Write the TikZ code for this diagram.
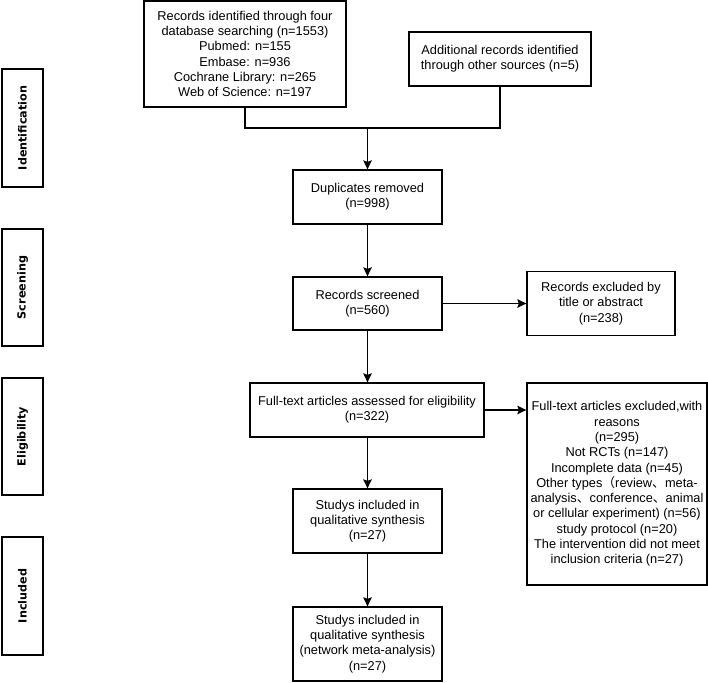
\documentclass[tikz,border=0pt]{standalone}
\usepackage{fontspec}
\setmainfont{Liberation Sans}
\newfontfamily\cjk{Noto Sans CJK SC}
\newfontfamily\sidefont{DejaVu Sans}
\usetikzlibrary{arrows.meta}
\begin{document}
\begin{tikzpicture}[x=1pt,y=-1pt,
  box/.style={draw, line width=1.3pt, inner sep=0pt, align=center,
    font=\fontsize{12.8}{15.3}\selectfont},
  side/.style={draw, line width=1.3pt, inner sep=0pt, minimum width=41pt,
    font=\sidefont\bfseries\fontsize{11.2}{13}\selectfont},
  conn/.style={line width=1.3pt},
  arr/.style={line width=1.3pt, -{Stealth[length=9pt,width=8.5pt,inset=1.5pt]}}]
\useasboundingbox (0,0) rectangle (708,682);
% side labels
\node[side, minimum height=118pt] (sid) at (22.5,128) {\rotatebox{90}{Identification}};
\node[side, minimum height=117pt] (ssc) at (22.5,287.5) {\rotatebox{90}{Screening}};
\node[side, minimum height=117pt] (sel) at (22.5,436.5) {\rotatebox{90}{Eligibility}};
\node[side, minimum height=118pt] (sin) at (22.5,596) {\rotatebox{90}{Included}};
% boxes
\node[box, minimum width=202pt, minimum height=106pt] (rec) at (245,54)
  {Records identified through four\\database searching (n=1553)\\Pubmed: n=155\\Embase: n=936\\Cochrane Library: n=265\\Web of Science: n=197};
\node[box, minimum width=182pt, minimum height=54pt] (add) at (500,59)
  {Additional records identified\\through other sources (n=5)};
\node[box, minimum width=149pt, minimum height=54pt] (dup) at (367.5,197)
  {Duplicates removed\\(n=998)};
\node[box, minimum width=149pt, minimum height=53pt] (scr) at (367.5,303.5)
  {Records screened\\(n=560)};
\node[box, minimum width=148pt, minimum height=64pt] (ex1) at (601,303.5)
  {Records excluded by\\title or abstract\\(n=238)};
\node[box, minimum width=234pt, minimum height=54pt] (full) at (367,410)
  {Full-text articles assessed for eligibility\\(n=322)};
\node[box, minimum width=180pt, minimum height=202pt] (ex2) at (617,484)
  {Full-text articles excluded,with\\reasons\\(n=295)\\Not RCTs (n=147)\\Incomplete data (n=45)\\Other types{\cjk （}review{\cjk 、}meta-\\analysis{\cjk 、}conference{\cjk 、}animal\\or cellular experiment) (n=56)\\study protocol (n=20)\\The intervention did not meet\\inclusion criteria (n=27)};
\node[box, minimum width=149pt, minimum height=64pt] (st1) at (367.5,521)
  {Studys included in\\qualitative synthesis\\(n=27)};
\node[box, minimum width=149pt, minimum height=74pt] (st2) at (367.5,644)
  {Studys included in\\qualitative synthesis\\(network meta-analysis)\\(n=27)};
% connectors
\coordinate (j) at (367.5,128);
\draw[conn] (rec.south) |- (j);
\draw[conn] (add.south) |- (j);
\draw[arr] (j) -- (dup.north);
\draw[arr] (dup.south) -- (scr.north);
\draw[arr] (scr.east) -- (ex1.west);
\draw[arr] (scr.south) -- (scr.south |- full.north);
\draw[arr] (full.east) -- (full.east -| ex2.west);
\draw[arr] (full.south -| st1.north) -- (st1.north);
\draw[arr] (st1.south) -- (st2.north);
\end{tikzpicture}
\end{document}
